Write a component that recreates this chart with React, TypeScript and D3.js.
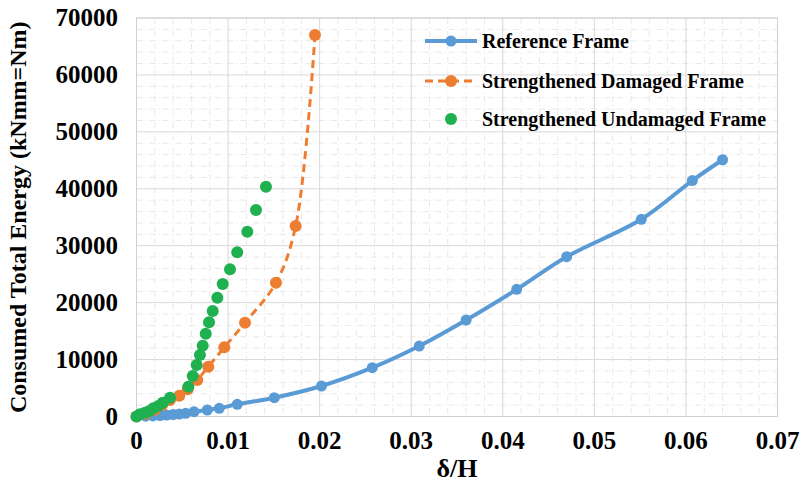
import React from "react";
import * as d3 from "d3";

const xTickValues = [0, 0.01, 0.02, 0.03, 0.04, 0.05, 0.06, 0.07];
const xTickLabels = ["0", "0.01", "0.02", "0.03", "0.04", "0.05", "0.06", "0.07"];
const yTickValues = [0, 10000, 20000, 30000, 40000, 50000, 60000, 70000];
const yTickLabels = ["0", "10000", "20000", "30000", "40000", "50000", "60000", "70000"];

const seriesNames = ["Reference Frame", "Strengthened Damaged Frame", "Strengthened Undamaged Frame"];

const refX = [0, 0.001, 0.0018, 0.00257, 0.0033, 0.004, 0.00467, 0.00537, 0.00628, 0.00773, 0.00904, 0.011, 0.01505, 0.0202, 0.02575, 0.03088, 0.036, 0.04152, 0.04698, 0.05513, 0.0607, 0.064];
const refY = [0, 50, 100, 175, 260, 350, 440, 560, 840, 1140, 1440, 2140, 3300, 5357, 8572, 12380, 16950, 22340, 28070, 34640, 41450, 45100];

const dmgX = [0, 0.001, 0.002, 0.0028, 0.00366, 0.00467, 0.00559, 0.00664, 0.00784, 0.00959, 0.01185, 0.01523, 0.01738, 0.01949];
const dmgY = [0, 500, 1200, 2000, 2900, 3650, 4780, 6410, 8750, 12150, 16480, 23500, 33460, 67010];

const undX = [0, 0.00038, 0.00093, 0.0014, 0.00184, 0.00238, 0.00286, 0.00366, 0.00566, 0.00614, 0.00657, 0.00693, 0.00723, 0.00756, 0.00792, 0.00832, 0.00883, 0.00941, 0.01021, 0.011, 0.0121, 0.01305, 0.01414];
const undY = [0, 390, 670, 970, 1440, 1840, 2420, 3300, 5230, 7110, 9050, 10800, 12440, 14550, 16550, 18530, 20870, 23270, 25860, 28840, 32460, 36270, 40370];

const W = 802;
const H = 485;
const margin = { left: 136.5, right: 24.5, top: 18, bottom: 68.5 };
const BLUE = "#5b9bd5";
const ORANGE = "#ed7d31";
const GREEN = "#1fb04f";
const FONT = "'Liberation Serif', 'Times New Roman', serif";

export default function App() {
  const x = d3.scaleLinear().domain([0, 0.07]).range([margin.left, W - margin.right]);
  const y = d3.scaleLinear().domain([0, 70000]).range([H - margin.bottom, margin.top]);

  const minorX = d3.range(0, 0.0701, 0.002).filter((v) => Math.abs(v / 0.01 - Math.round(v / 0.01)) > 1e-6);
  const minorY = d3.range(0, 70001, 2000).filter((v) => v % 10000 !== 0);

  const line = d3
    .line<[number, number]>()
    .x((d) => x(d[0]))
    .y((d) => y(d[1]))
    .curve(d3.curveCatmullRom.alpha(0.5));

  const refPts: [number, number][] = refX.map((v, i) => [v, refY[i]]);
  const dmgPts: [number, number][] = dmgX.map((v, i) => [v, dmgY[i]]);
  const undPts: [number, number][] = undX.map((v, i) => [v, undY[i]]);

  const x0 = margin.left;
  const x1 = W - margin.right;
  const y0 = H - margin.bottom;
  const y1 = margin.top;

  const legX = 425;
  const legY = [41, 81, 119];

  return (
    <svg width={W} height={H} style={{ position: "absolute", left: 0, top: 0, background: "#fff" }}>
      <rect x={0} y={0} width={W} height={H} fill="#fff" />
      {minorX.map((v, i) => (
        <line key={"mx" + i} x1={x(v)} x2={x(v)} y1={y1} y2={y0} stroke="#e8e8e8" strokeWidth={1} strokeDasharray="6,3,1,3" />
      ))}
      {minorY.map((v, i) => (
        <line key={"my" + i} x1={x0} x2={x1} y1={y(v)} y2={y(v)} stroke="#e8e8e8" strokeWidth={1} strokeDasharray="6,3,1,3" />
      ))}
      {xTickValues.map((v, i) => (
        <line key={"gx" + i} x1={x(v)} x2={x(v)} y1={y1} y2={y0} stroke="#d9d9d9" strokeWidth={1} />
      ))}
      {yTickValues.map((v, i) => (
        <line key={"gy" + i} x1={x0} x2={x1} y1={y(v)} y2={y(v)} stroke="#d9d9d9" strokeWidth={1} />
      ))}
      <rect x={x0} y={y1} width={x1 - x0} height={y0 - y1} fill="none" stroke="#d0d0d0" strokeWidth={1} />

      <path d={line(refPts) || ""} fill="none" stroke={BLUE} strokeWidth={4} />
      {refPts.map((p, i) => (
        <circle key={"rp" + i} cx={x(p[0])} cy={y(p[1])} r={5.5} fill={BLUE} />
      ))}
      <path d={line(dmgPts) || ""} fill="none" stroke={ORANGE} strokeWidth={3} strokeDasharray="8,5" />
      {dmgPts.map((p, i) => (
        <circle key={"dp" + i} cx={x(p[0])} cy={y(p[1])} r={6} fill={ORANGE} />
      ))}
      {undPts.map((p, i) => (
        <circle key={"up" + i} cx={x(p[0])} cy={y(p[1])} r={6} fill={GREEN} />
      ))}

      {xTickValues.map((v, i) => (
        <text key={"xt" + i} x={x(v)} y={449} textAnchor="middle" fontFamily={FONT} fontWeight="bold" fontSize={25} fill="#000">
          {xTickLabels[i]}
        </text>
      ))}
      {yTickValues.map((v, i) => (
        <text key={"yt" + i} x={118} y={y(v) + 8} textAnchor="end" fontFamily={FONT} fontWeight="bold" fontSize={25} fill="#000">
          {yTickLabels[i]}
        </text>
      ))}
      <text x={(x0 + x1) / 2} y={477} textAnchor="middle" fontFamily={FONT} fontWeight="bold" fontSize={26} fill="#000">
        δ/H
      </text>
      <text
        transform={`translate(26, ${(y0 + y1) / 2}) rotate(-90)`}
        textAnchor="middle"
        fontFamily={FONT}
        fontWeight="bold"
        fontSize={24}
        fill="#000"
      >
        Consumed  Total Energy (kNmm=Nm)
      </text>

      <line x1={legX} x2={legX + 52} y1={legY[0]} y2={legY[0]} stroke={BLUE} strokeWidth={4} />
      <circle cx={legX + 26} cy={legY[0]} r={5.5} fill={BLUE} />
      <line x1={legX} x2={legX + 52} y1={legY[1]} y2={legY[1]} stroke={ORANGE} strokeWidth={3} strokeDasharray="8,5" />
      <circle cx={legX + 26} cy={legY[1]} r={6} fill={ORANGE} />
      <circle cx={legX + 26} cy={legY[2]} r={6} fill={GREEN} />
      {seriesNames.map((s, i) => (
        <text key={"lg" + i} x={482} y={legY[i] + 7} fontFamily={FONT} fontWeight="bold" fontSize={20} fill="#000">
          {s}
        </text>
      ))}
    </svg>
  );
}
